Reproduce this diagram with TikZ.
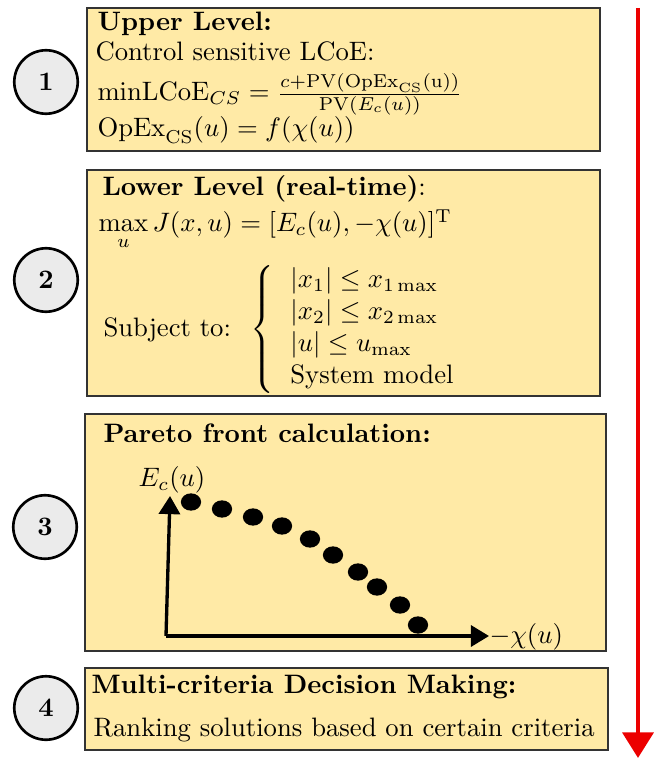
\documentclass[tikz,border=0pt]{standalone}
\usetikzlibrary{arrows.meta,fit,shapes.geometric}
\definecolor{boxfill}{RGB}{255,234,166}
\definecolor{circfill}{RGB}{235,235,235}
\definecolor{arrred}{RGB}{236,0,0}
\begin{document}
\begin{tikzpicture}[x=0.375pt,y=-0.375pt,
  box/.style={draw=black!80, line width=0.4pt, fill=boxfill, inner sep=0pt},
  stepnum/.style={circle, draw=black, line width=1pt, fill=circfill, minimum size=23.8pt, inner sep=0pt, font=\bfseries},
  txt/.style={anchor=base west, inner sep=0pt},
  dot/.style={ellipse, fill=black, minimum width=7.6pt, minimum height=6.5pt, inner sep=0pt},
  axis/.style={line width=1.25pt, -{Triangle[length=6.8pt,width=7.9pt]}},
  flow/.style={draw=arrred, line width=1.75pt, -{Triangle[length=9.6pt,width=11.5pt]}},
]
\useasboundingbox (0,0) rectangle (660,759);

% boxes
\node[box, fit={(87,8) (600,151)}] (b1) {};
\node[box, fit={(87,170) (600,396)}] (b2) {};
\node[box, fit={(85,414) (606,651)}] (b3) {};
\node[box, fit={(85,668) (608,750)}] (b4) {};

% step circles
\node[stepnum] (c1) at (46,82) {1};
\node[stepnum] (c2) at (46,280) {2};
\node[stepnum] (c3) at (45,527) {3};
\node[stepnum] (c4) at (46,708) {4};

% box 1
\node[txt] (t11) at (97,31) {\textbf{Upper Level:}};
\node[txt] (t12) at (95,61) {Control sensitive LCoE:};
\node[txt] (t13) at (97,101) {$\mathrm{minLCoE}_{CS} = \frac{c+\mathrm{PV}(\mathrm{OpEx}_{\mathrm{CS}}(\mathrm{u}))}{\mathrm{PV}(E_c(u))}$};
\node[txt] (t14) at (97,137) {$\mathrm{OpEx}_{\mathrm{CS}}(u) = f(\chi(u))$};

% box 2
\node[txt] (t21) at (102,196) {\textbf{Lower Level (real-time)}:};
\node[txt] (t22) at (98,232) {$\max\limits_u J(x,u) = [E_c(u), -\chi(u)]^{\mathrm{T}}$};
\node[txt] (t23) at (103,336) {Subject to:};
\node[txt, xshift=7pt] (t24) at (t23.base east) {$\left\{\hspace{1pt}\begin{array}{l} |x_1| \le x_{1\max}\\ |x_2|\le x_{2\max}\\ |u|\le u_{\max}\\ \mbox{System model}\end{array}\right.$};

% box 3
\node[txt] (t31) at (103,442) {\textbf{Pareto front calculation:}};
\coordinate (O) at (166,636);
\coordinate (ytip) at (170,496);
\coordinate (xtip) at (489,636);
\draw[axis] (O) -- (ytip);
\draw[axis] (O) -- (xtip);
\node[anchor=base, inner sep=0pt] (ylab) at (172,486) {$E_c(u)$};
\node[txt] (xlab) at (489,643) {$-\chi(u)$};
\foreach \i/\x/\y in {1/191/502, 2/222/509, 3/253/517, 4/282/526, 5/310/539, 6/333/555, 7/358/572, 8/377/587, 9/400/605, 10/418/625}
  \node[dot] (d\i) at (\x,\y) {};

% box 4
\node[txt] (t41) at (91,693) {\textbf{Multi-criteria Decision Making:}};
\node[txt] (t42) at (93,736) {Ranking solutions based on certain criteria};

% red flow arrow
\coordinate (rtop) at (638,8);
\coordinate (rbot) at (638,758);
\draw[flow] (rtop) -- (rbot);
\end{tikzpicture}
\end{document}
